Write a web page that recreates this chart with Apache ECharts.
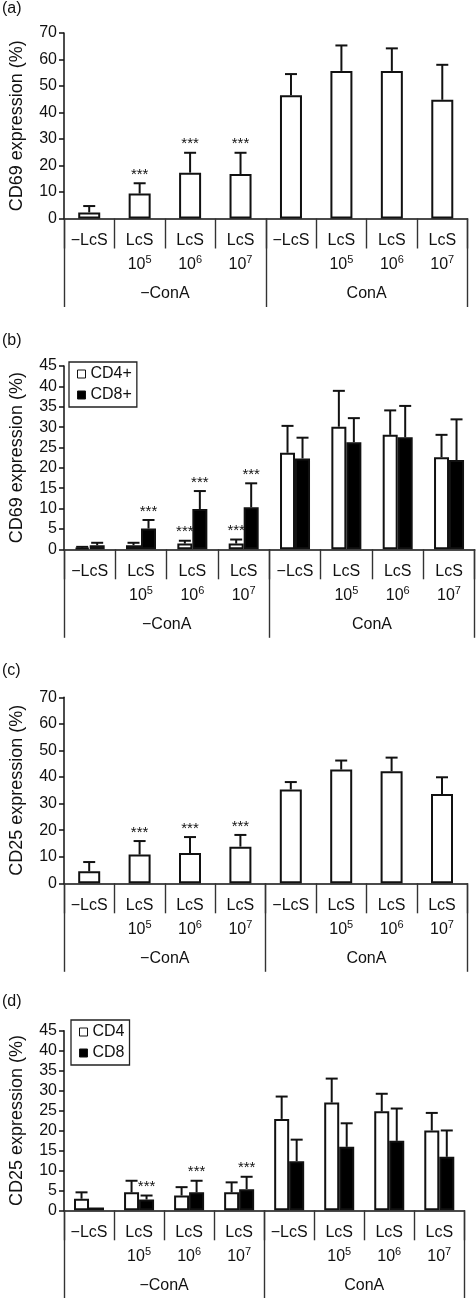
<!DOCTYPE html>
<html>
<head>
<meta charset="utf-8">
<script src="https://cdn.jsdelivr.net/npm/echarts@6/dist/echarts.min.js"></script>
<style>
html,body{margin:0;padding:0;background:#fff;}
#chart{width:476px;height:1298px;}
</style>
</head>
<body>
<div id="chart"></div>
<script>
// ---- data ----
const catTop = ['−LcS', 'LcS', 'LcS', 'LcS', '−LcS', 'LcS', 'LcS', 'LcS'];
const catExp = ['', '5', '6', '7', '', '5', '6', '7'];
const groups = ['−ConA', 'ConA'];
const panelLabels = ['(a)', '(b)', '(c)', '(d)'];
const yTitles = ['CD69 expression (%)', 'CD69 expression (%)', 'CD25 expression (%)', 'CD25 expression (%)'];
const yMax = [70, 45, 70, 45];
const yStep = [10, 5, 10, 5];

// (a) CD69 total
const aMean = [2.3, 9.4, 17.3, 16.8, 46.5, 55.7, 55.7, 44.8];
const aErr  = [2.4, 3.9, 7.5, 8.0, 8.0, 9.6, 8.5, 13.2];
const aSig  = [0, 1, 1, 1, 0, 0, 0, 0];

// (b) CD69 CD4+/CD8+
const bCD4Mean = [0.4, 1.0, 1.4, 1.4, 23.7, 30.1, 28.1, 22.6];
const bCD4Err  = [0.2, 0.6, 0.7, 1.0, 6.6, 8.8, 6.0, 5.5];
const bCD4Sig  = [0, 0, 1, 1, 0, 0, 0, 0];
const bCD8Mean = [1.0, 5.1, 9.9, 10.3, 22.3, 26.3, 27.5, 21.9];
const bCD8Err  = [0.6, 2.1, 4.4, 5.9, 5.1, 5.9, 7.7, 10.0];
const bCD8Sig  = [0, 1, 1, 1, 0, 0, 0, 0];

// (c) CD25 total
const cMean = [4.5, 10.8, 11.4, 13.8, 35.3, 42.8, 42.2, 33.6];
const cErr  = [3.5, 5.1, 6.0, 4.4, 2.8, 3.4, 5.1, 6.3];
const cSig  = [0, 1, 1, 1, 0, 0, 0, 0];

// (d) CD25 CD4/CD8
const dCD4Mean = [2.9, 4.5, 3.7, 4.5, 22.9, 27.0, 24.8, 20.0];
const dCD4Err  = [1.6, 2.9, 2.1, 2.5, 5.6, 6.0, 4.4, 4.4];
const dCD4Sig  = [0, 0, 0, 0, 0, 0, 0, 0];
const dCD8Mean = [0.7, 2.7, 4.5, 5.3, 12.3, 15.9, 17.4, 13.4];
const dCD8Err  = [0, 1.0, 2.9, 3.1, 5.4, 5.9, 8.1, 6.6];
const dCD8Sig  = [0, 1, 1, 1, 0, 0, 0, 0];

// ---- layout ----
const FONT = 'Liberation Sans, Arial, Helvetica, sans-serif';
const grids = [
  {left: 55.5, top: 33,     width: 412,   height: 185.5},
  {left: 55.7, top: 366,    width: 419,   height: 183.3},
  {left: 55.7, top: 697.3,  width: 411.5, height: 186},
  {left: 55.3, top: 1030.7, width: 409,   height: 179.6}
];
const labelTops = [10, 342, 672, 1003];

const xAxes = [], yAxes = [], series = [];
grids.forEach((g, i) => {
  xAxes.push({
    type: 'category', gridIndex: i, position: 'bottom', offset: 0,
    data: catTop.map((t, k) => t + '#' + k),
    axisLine: {lineStyle: {color: '#111', width: 1.5}},
    axisTick: {show: true, interval: 0, length: 30, lineStyle: {color: '#333', width: 1.4}},
    axisLabel: {
      interval: 0, margin: 10, color: '#111', fontFamily: FONT,
      formatter: (v, k) => '{t|' + catTop[k] + '}\n' + (catExp[k] ? '{n|10}{s|' + catExp[k] + '}' : '{n| }'),
      rich: {
        t: {fontSize: 16, lineHeight: 24, fontFamily: FONT, color: '#111'},
        n: {fontSize: 16, lineHeight: 24, fontFamily: FONT, color: '#111'},
        s: {fontSize: 11, lineHeight: 24, fontFamily: FONT, color: '#111', verticalAlign: 'top', padding: [2, 0, 0, 0]}
      }
    }
  });
  xAxes.push({
    type: 'category', gridIndex: i, position: 'bottom', offset: 0,
    data: groups,
    axisLine: {show: false},
    axisTick: {show: true, interval: 0, length: 88.5, lineStyle: {color: '#333', width: 1.4}},
    axisLabel: {interval: 0, margin: 67, fontSize: 16, fontFamily: FONT, color: '#111'}
  });
  yAxes.push({
    type: 'value', gridIndex: i, min: 0, max: yMax[i], interval: yStep[i],
    name: yTitles[i], nameLocation: 'middle', nameGap: 38, nameRotate: 90,
    nameTextStyle: {fontSize: 18, fontFamily: FONT, color: '#111'},
    axisLine: {show: true, lineStyle: {color: '#111', width: 1.5}},
    axisTick: {show: true, length: 5, lineStyle: {color: '#111', width: 1.5}},
    axisLabel: {fontSize: 16, fontFamily: FONT, color: '#111', margin: 7},
    splitLine: {show: false}
  });
});

function errSeries(gi, mean, err, sig, offset) {
  return {
    type: 'custom', xAxisIndex: gi * 2, yAxisIndex: gi, z: 5,
    data: mean.map((m, k) => [k, m, err[k], sig[k]]),
    renderItem: (params, api) => {
      const k = api.value(0), m = api.value(1), e = api.value(2), s = api.value(3);
      const base = api.coord([k, m]);
      const top = api.coord([k, m + e]);
      const x = base[0] + offset;
      const children = [];
      if (e > 0) {
        children.push({type: 'line', shape: {x1: x, y1: base[1], x2: x, y2: top[1]}, style: {stroke: '#111', lineWidth: 2}});
        children.push({type: 'line', shape: {x1: x - 6, y1: top[1], x2: x + 6, y2: top[1]}, style: {stroke: '#111', lineWidth: 2}});
      }
      if (s) {
        children.push({type: 'text', style: {text: '***', x: x, y: top[1] - 1, align: 'center', verticalAlign: 'bottom', fontSize: 15, fontFamily: FONT, fill: '#111'}});
      }
      return {type: 'group', children: children};
    }
  };
}

function barSeries(gi, name, mean, fill, width) {
  return {
    type: 'bar', name: name, xAxisIndex: gi * 2, yAxisIndex: gi,
    data: mean, barWidth: width, barGap: '0%',
    itemStyle: {color: fill, borderColor: '#111', borderWidth: 2},
    silent: true
  };
}

series.push(barSeries(0, 'total69', aMean, '#fff', 22));
series.push(errSeries(0, aMean, aErr, aSig, 0));

series.push(barSeries(1, 'CD4+', bCD4Mean, '#fff', 15));
series.push(barSeries(1, 'CD8+', bCD8Mean, '#000', 15));
series.push(errSeries(1, bCD4Mean, bCD4Err, bCD4Sig, -7.5));
series.push(errSeries(1, bCD8Mean, bCD8Err, bCD8Sig, 7.5));

series.push(barSeries(2, 'total25', cMean, '#fff', 22));
series.push(errSeries(2, cMean, cErr, cSig, 0));

series.push(barSeries(3, 'CD4', dCD4Mean, '#fff', 15));
series.push(barSeries(3, 'CD8', dCD8Mean, '#000', 15));
series.push(errSeries(3, dCD4Mean, dCD4Err, dCD4Sig, -7.5));
series.push(errSeries(3, dCD8Mean, dCD8Err, dCD8Sig, 7.5));

function legend(names, left, top) {
  return {
    data: names, orient: 'vertical', left: left, top: top, icon: 'rect',
    itemWidth: 8, itemHeight: 8, itemGap: 5, padding: [4, 5, 4, 8],
    borderColor: '#222', borderWidth: 1.3, selectedMode: false,
    itemStyle: {borderColor: '#111', borderWidth: 1},
    textStyle: {fontSize: 16, fontFamily: FONT, color: '#111', padding: [0, 0, 0, 0]}
  };
}

const chart = echarts.init(document.getElementById('chart'), null, {renderer: 'canvas'});
chart.setOption({
  animation: false,
  backgroundColor: '#fff',
  grid: grids.map(g => Object.assign({containLabel: false}, g)),
  xAxis: xAxes,
  yAxis: yAxes,
  legend: [legend(['CD4+', 'CD8+'], 69, 362), legend(['CD4', 'CD8'], 71, 1020)],
  graphic: panelLabels.map((t, i) => ({
    type: 'text', left: 2, top: labelTops[i] - 9,
    style: {text: t, fontSize: 16, fontFamily: FONT, fill: '#111'}
  })),
  series: series
});
</script>
</body>
</html>
